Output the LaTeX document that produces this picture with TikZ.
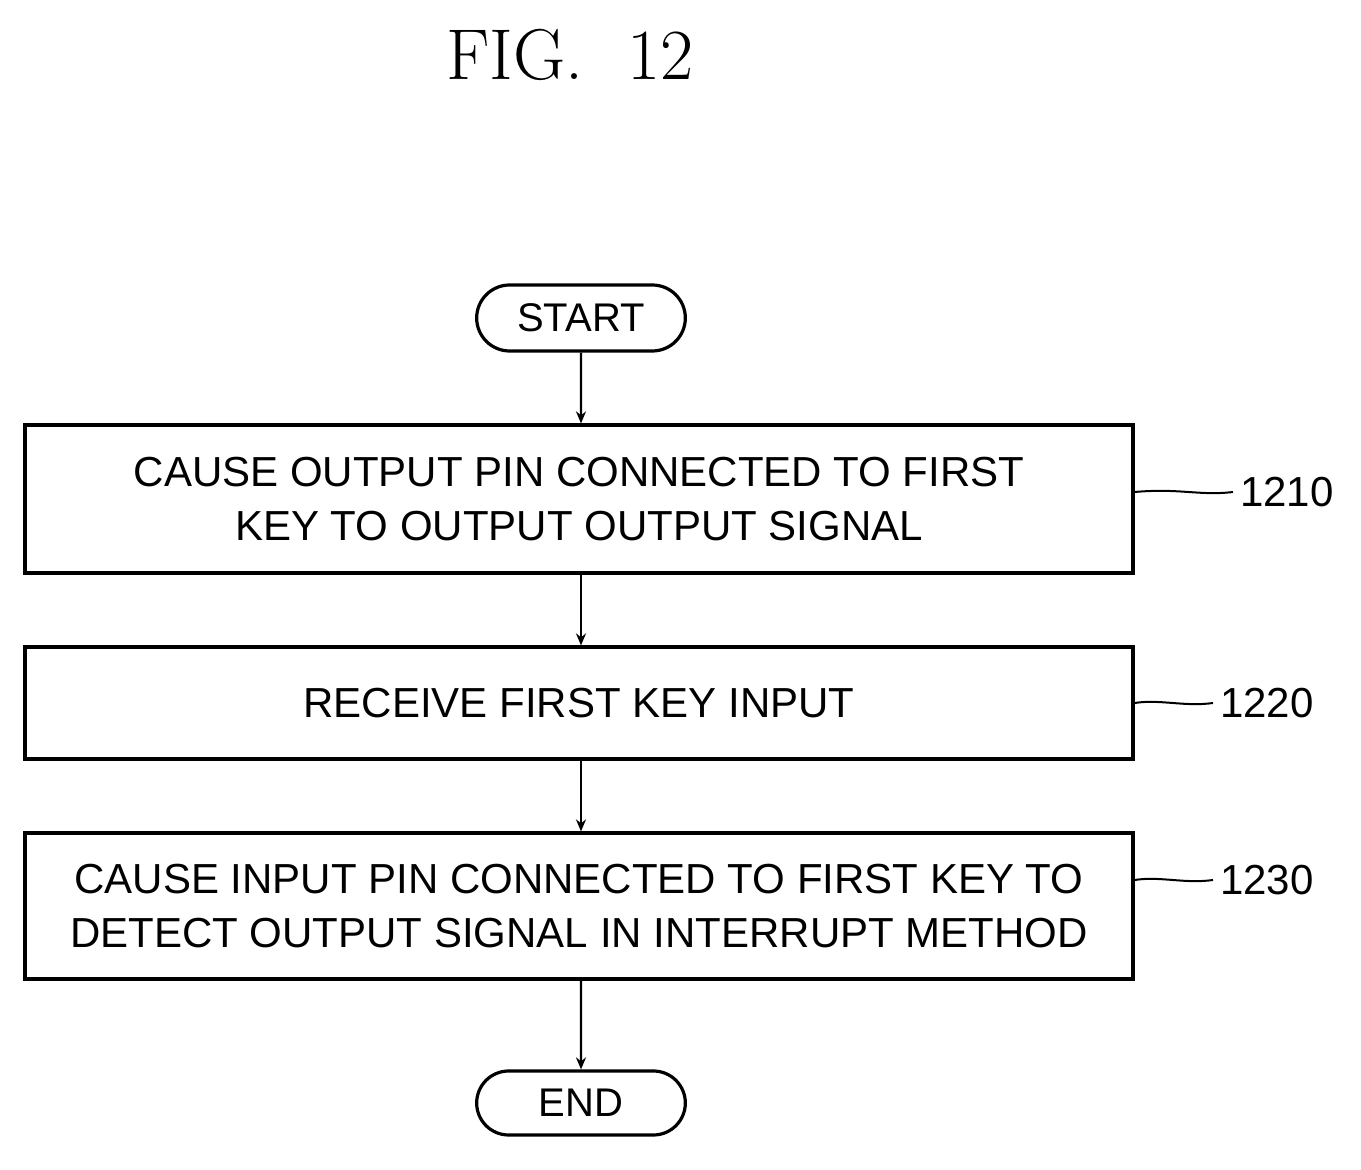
\documentclass[tikz,border=0pt]{standalone}
\usepackage{fontspec}
\setsansfont{Liberation Sans}
\usetikzlibrary{arrows.meta,shapes.misc}
\begin{document}
\begin{tikzpicture}[x=0.5pt,y=-0.5pt,
  box/.style={draw,line width=1.6pt,minimum width=554pt,align=center,font=\sffamily\fontsize{21}{27}\selectfont},
  term/.style={draw,line width=1.6pt,rounded rectangle,minimum width=111pt,font=\sffamily\fontsize{20}{22}\selectfont},
  arr/.style={-{Stealth[length=6pt,width=5pt]},line width=1.2pt},
  lab/.style={font=\sffamily\fontsize{21}{22}\selectfont},
  lead/.style={line width=1pt}]
\useasboundingbox (0,0) rectangle (1361,1170);
\node[font=\rmfamily\fontsize{36}{40}\selectfont] (title) at (570,55) {FIG.\ \ 12};
\node[term,minimum height=33pt] (start) at (581,318) {START};
\node[box,minimum height=74pt] (b1) at (579,499) {CAUSE OUTPUT PIN CONNECTED TO FIRST\\KEY TO OUTPUT OUTPUT SIGNAL};
\node[box,minimum height=56pt] (b2) at (579,703) {RECEIVE FIRST KEY INPUT};
\node[box,minimum height=73pt] (b3) at (579,906) {CAUSE INPUT PIN CONNECTED TO FIRST KEY TO\\DETECT OUTPUT SIGNAL IN INTERRUPT METHOD};
\node[term,minimum height=32pt] (end) at (581,1103) {END};
\draw[arr] (start) -- (start|-b1.north);
\draw[arr] (b1.south-|start) -- (start|-b2.north);
\draw[arr] (b2.south-|start) -- (start|-b3.north);
\draw[arr] (b3.south-|start) -- (end);
\node[lab,anchor=west] (l1) at (1233,492) {1210};
\node[lab,anchor=west] (l2) at (1213,703) {1220};
\node[lab,anchor=west] (l3) at (1213,880) {1230};
\draw[lead] (b1.east|-l1) .. controls (1180,488) and (1200,496) .. (l1.west);
\draw[lead] (b2.east|-l2) .. controls (1160,699) and (1185,707) .. (l2.west);
\draw[lead] (b3.east|-l3) .. controls (1160,876) and (1185,884) .. (l3.west);
\end{tikzpicture}
\end{document}
